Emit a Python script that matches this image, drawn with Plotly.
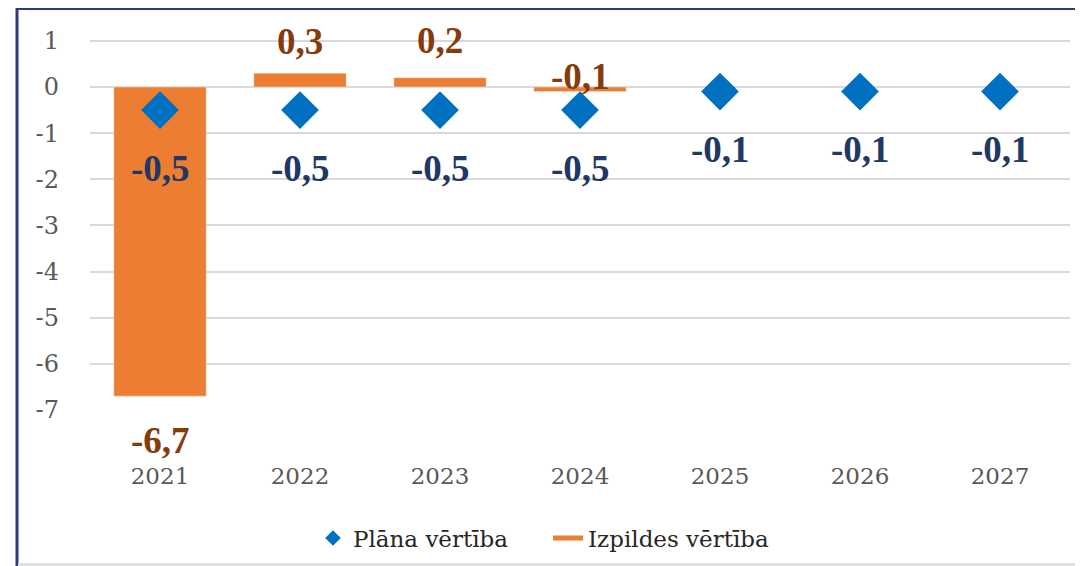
import plotly.graph_objects as go

# ---- data ----
years = [2021, 2022, 2023, 2024, 2025, 2026, 2027]
plana = [-0.5, -0.5, -0.5, -0.5, -0.1, -0.1, -0.1]
izpildes_years = [2021, 2022, 2023, 2024]
izpildes = [-6.7, 0.3, 0.2, -0.1]
y_ticks = [1, 0, -1, -2, -3, -4, -5, -6, -7]

# ---- style ----
ORANGE = "#ED7D31"
BLUE = "#0070C0"
NAVY = "#1F3864"
BROWN = "#843C0C"
GRAY_TXT = "#595959"
FONT = "Liberation Serif"
FONT_REG = "DejaVu Serif"
izp_label_shift = [-44, 32, 37, 15]
plana_label_shift = -58

PLOT_H = 383.0
PLOT_W = 980.0


def fmt(v):
    return f"{v:.1f}".replace(".", ",")


fig = go.Figure()

fig.add_trace(go.Bar(
    x=izpildes_years, y=izpildes, marker_color=ORANGE, width=0.66,
    showlegend=False, hoverinfo="skip",
))
fig.add_trace(go.Scatter(
    x=years, y=plana, mode="markers", name="Plāna vērtība",
    marker=dict(symbol="diamond", size=29, color=BLUE),
))
fig.add_trace(go.Scatter(
    x=[None], y=[None], mode="lines", name="Izpildes vērtība",
    line=dict(color=ORANGE, width=4),
))

for x, v in zip(years, plana):
    fig.add_annotation(x=x, y=v, text=fmt(v), showarrow=False, yshift=plana_label_shift,
                       font=dict(family=FONT, size=37, color=NAVY, weight="bold"))
for x, v, s in zip(izpildes_years, izpildes, izp_label_shift):
    fig.add_annotation(x=x, y=v, text=fmt(v), showarrow=False, yshift=s,
                       font=dict(family=FONT, size=37, color=BROWN, weight="bold"))


# frame decorations (screen px -> paper coordinates of plot area)
def px_x(p):
    return (p - 90) / PLOT_W


def px_y(p):
    return (410 - p) / PLOT_H


fig.add_shape(type="line", xref="paper", yref="paper", x0=px_x(16), x1=px_x(1095),
              y0=px_y(9), y1=px_y(9), line=dict(color="#2E3A7A", width=2))
fig.add_shape(type="line", xref="paper", yref="paper", x0=px_x(17), x1=px_x(17),
              y0=px_y(8), y1=px_y(580), line=dict(color="#2E3A7A", width=3))
fig.add_shape(type="line", xref="paper", yref="paper", x0=px_x(18), x1=px_x(1095),
              y0=px_y(564.5), y1=px_y(564.5), line=dict(color="#E0E0E0", width=3))

fig.update_layout(
    width=1083, height=566,
    margin=dict(l=82, r=21, t=19, b=164, autoexpand=False),
    paper_bgcolor="white", plot_bgcolor="white",
    font=dict(family=FONT_REG, color=GRAY_TXT),
    legend=dict(orientation="h", x=px_x(313), xanchor="left", y=px_y(538), yanchor="middle",
                font=dict(family=FONT_REG, size=23, color="#262626"), itemsizing="constant",
                bgcolor="rgba(0,0,0,0)", entrywidth=190, tracegroupgap=0),
    xaxis=dict(range=[2020.5, 2027.5], tickvals=years, ticktext=[str(y) for y in years],
               showgrid=False, showline=False, zeroline=False, ticks="",
               tickfont=dict(family=FONT_REG, size=23, color=GRAY_TXT),
               ticklabelstandoff=50, fixedrange=True),
    yaxis=dict(range=[-7, 1.3], tickvals=y_ticks, ticktext=[str(t) for t in y_ticks],
               showgrid=True, gridcolor="#D9D9D9", gridwidth=2, zeroline=False,
               ticks="", tickfont=dict(family=FONT_REG, size=24, color=GRAY_TXT),
               ticklabelstandoff=30, fixedrange=True),
)

fig.write_html("out.html")
